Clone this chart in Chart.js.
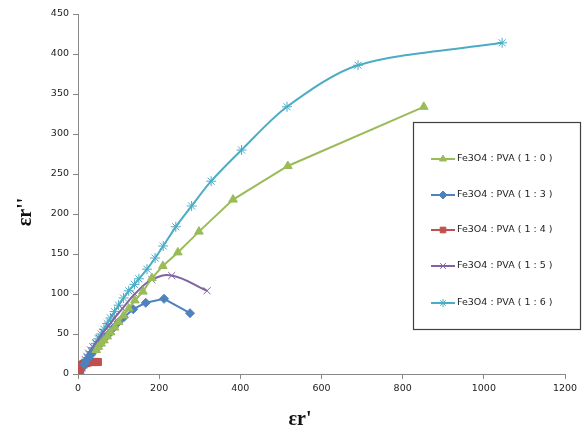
<!DOCTYPE html>
<html><head><meta charset="utf-8">
<script src="https://cdn.jsdelivr.net/npm/chart.js@4/dist/chart.umd.min.js"></script>
<style>html,body{margin:0;padding:0;background:#fff}#wrap{width:584px;height:434px;position:relative}</style>
</head><body><div id="wrap"><canvas id="c" width="584" height="434"></canvas></div>
<script>
const seriesLabels = ["Fe3O4 : PVA ( 1 : 0 )","Fe3O4 : PVA ( 1 : 3 )","Fe3O4 : PVA ( 1 : 4 )","Fe3O4 : PVA ( 1 : 5 )","Fe3O4 : PVA ( 1 : 6 )"];
const xTicks = [0,200,400,600,800,1000,1200];
const yTicks = [0,50,100,150,200,250,300,350,400,450];

const s10x = [45,50,57,64,72,80,90,100,112,125,140,160,182,209,246,298,382,517,852];
const s10y = [30,34,38,42,47,52,58,65,73,82,92,103,120,135,152,178,218,260,334];

const s13x = [15,20,26,32,38,45,52,60,68,78,88,100,113,136,167,212,276];
const s13y = [12,16,20,24,28,32,36,41,46,51,58,65,71,81,89,94,76];

const s14x = [1,2,3,4,5,6,8,10,12,15,18,21,25,29,33,37,41,45,49];
const s14y = [0.5,2,3.5,5,6.5,8,9.5,11,12,13,13.5,14,14.5,15,15,15,15,15,15];

const s15x = [18,22,26,31,37,44,52,62,75,90,110,140,182,231,318];
const s15y = [18,22,26,30,34,39,45,52,60,70,82,100,118,123,104];

const s16x = [2,4,7,10,14,18,23,28,33,38,44,50,57,64,72,80,90,100,112,125,139,150,170,190,210,241,280,328,403,515,690,1045];
const s16y = [1,3,5,8,11,15,20,24,28,33,38,44,50,56,63,70,78,86,95,104,112,119,131,145,160,184,210,241,280,334,386,414];

const colors = ["#9BBB59","#4F81BD","#C0504D","#8064A2","#4BACC6"];
const styles = ["triangle","rectRot","rect","crossRot","star"];
const radii = [5,4.5,5,5,5];
const tensions = [0,0,0,0.4,0.3];
const xs = [s10x,s13x,s14x,s15x,s16x];
const ys = [s10y,s13y,s14y,s15y,s16y];

const datasets = seriesLabels.map((lab,i)=>({
  label: lab,
  data: xs[i].map((x,k)=>({x:x,y:ys[i][k]})),
  borderColor: colors[i],
  backgroundColor: colors[i],
  pointBackgroundColor: colors[i],
  pointBorderColor: colors[i],
  pointStyle: styles[i],
  pointRadius: radii[i],
  pointBorderWidth: 1,
  borderWidth: 2,
  tension: tensions[i],
  showLine: true,
  fill: false
}));

const legendPlugin = {
  id:'boxLegend',
  afterDraw(chart){
    const ctx = chart.ctx;
    ctx.save();
    ctx.strokeStyle = '#404040';
    ctx.lineWidth = 1.2;
    ctx.strokeRect(413.5,122.5,167,207);
    ctx.font = '9.5px "DejaVu Sans", Verdana, sans-serif';
    ctx.textBaseline = 'middle';
    const rows=[159,195,230,266,303];
    chart.data.datasets.forEach((ds,i)=>{
      const y=rows[i];
      ctx.strokeStyle=ds.borderColor; ctx.lineWidth=2;
      ctx.beginPath(); ctx.moveTo(431,y); ctx.lineTo(455,y); ctx.stroke();
      ctx.fillStyle=ds.borderColor; ctx.strokeStyle=ds.borderColor; ctx.lineWidth=1;
      Chart.helpers.drawPoint(ctx,{pointStyle:ds.pointStyle,radius:4,borderWidth:1},443,y);
      ctx.fillStyle='#222';
      ctx.fillText(ds.label, 457, y);
    });
    ctx.fillStyle='#111';
    ctx.font='bold 20px "Liberation Serif", "Times New Roman", serif';
    ctx.textAlign='center';
    ctx.fillText("εr'", 300, 420);
    ctx.translate(26,212);
    ctx.rotate(-Math.PI/2);
    ctx.fillText("εr''",0,0);
    ctx.restore();
  }
};

new Chart(document.getElementById('c'),{
  type:'scatter',
  data:{datasets},
  options:{
    responsive:false,
    animation:false,
    devicePixelRatio:1,
    layout:{padding:{top:14,right:19,left:0,bottom:0}},
    plugins:{legend:{display:false},tooltip:{enabled:false}},
    scales:{
      x:{
        type:'linear',min:0,max:1200,
        afterBuildTicks(s){s.ticks=xTicks.map(v=>({value:v}));},
        afterFit(s){s.height=60;},
        grid:{display:true,drawOnChartArea:false,drawTicks:true,tickLength:5,color:'#888'},
        border:{display:true,color:'#888',width:1},
        ticks:{font:{family:'"DejaVu Sans", Verdana, sans-serif',size:9.5},color:'#222',padding:4,maxRotation:0,callback:v=>String(v)}
      },
      y:{
        type:'linear',min:0,max:450,
        afterBuildTicks(s){s.ticks=yTicks.map(v=>({value:v}));},
        afterFit(s){s.width=78;},
        grid:{display:true,drawOnChartArea:false,drawTicks:true,tickLength:5,color:'#888'},
        border:{display:true,color:'#888',width:1},
        ticks:{font:{family:'"DejaVu Sans", Verdana, sans-serif',size:9.5},color:'#222',padding:4,callback:v=>String(v)}
      }
    }
  },
  plugins:[legendPlugin]
});
</script></body></html>
